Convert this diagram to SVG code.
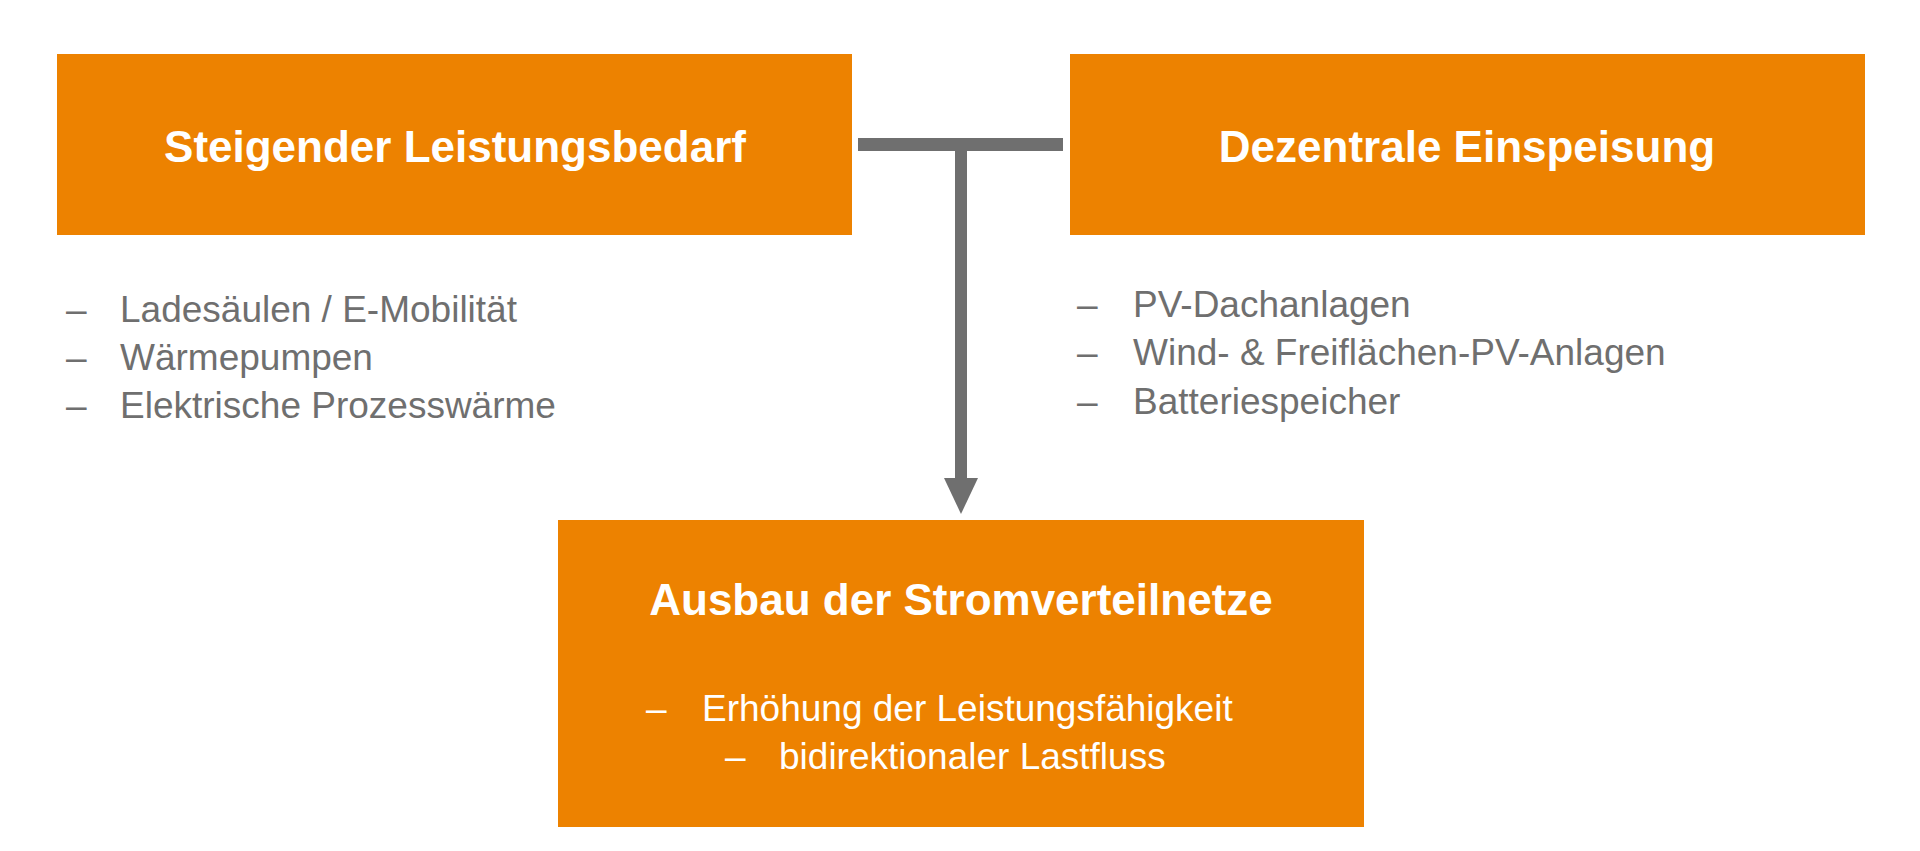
<svg xmlns="http://www.w3.org/2000/svg" width="1920" height="851" viewBox="0 0 1920 851">
<style>
.box{fill:#ED8200}
.t{font-family:"Liberation Sans",Arial,sans-serif;font-weight:bold;font-size:44px;fill:#fff;text-anchor:middle}
.l{font-family:"Liberation Sans",Arial,sans-serif;font-size:37px;fill:#6f6f6f}
.w{font-family:"Liberation Sans",Arial,sans-serif;font-size:37px;fill:#fff}
</style>
<rect width="1920" height="851" fill="#fff"/>
<g id="connectors">
<rect x="858" y="138" width="205" height="13" fill="#6f6f6f"/>
<rect x="955" y="144" width="12" height="336" fill="#6f6f6f"/>
<polygon points="944,478 978,478 961,514" fill="#6f6f6f"/>
</g>
<g id="n1">
<rect class="box" x="57" y="54" width="795" height="181"/>
<text class="t" x="455" y="162">Steigender Leistungsbedarf</text>
</g>
<g id="n1list">
<text class="l" x="66" y="322">–</text><text class="l" x="120" y="322">Ladesäulen / E-Mobilität</text>
<text class="l" x="66" y="370">–</text><text class="l" x="120" y="370">Wärmepumpen</text>
<text class="l" x="66" y="418">–</text><text class="l" x="120" y="418">Elektrische Prozesswärme</text>
</g>
<g id="n2">
<rect class="box" x="1070" y="54" width="795" height="181"/>
<text class="t" x="1467" y="162">Dezentrale Einspeisung</text>
</g>
<g id="n2list">
<text class="l" x="1077" y="317">–</text><text class="l" x="1133" y="317">PV-Dachanlagen</text>
<text class="l" x="1077" y="365">–</text><text class="l" x="1133" y="365">Wind- &amp; Freiflächen-PV-Anlagen</text>
<text class="l" x="1077" y="414">–</text><text class="l" x="1133" y="414">Batteriespeicher</text>
</g>
<g id="n3">
<rect class="box" x="558" y="520" width="806" height="307"/>
<text class="t" x="961" y="615">Ausbau der Stromverteilnetze</text>
<text class="w" x="646" y="721">–</text><text class="w" x="702" y="721">Erhöhung der Leistungsfähigkeit</text>
<text class="w" x="725" y="769">–</text><text class="w" x="779" y="769">bidirektionaler Lastfluss</text>
</g>
</svg>
